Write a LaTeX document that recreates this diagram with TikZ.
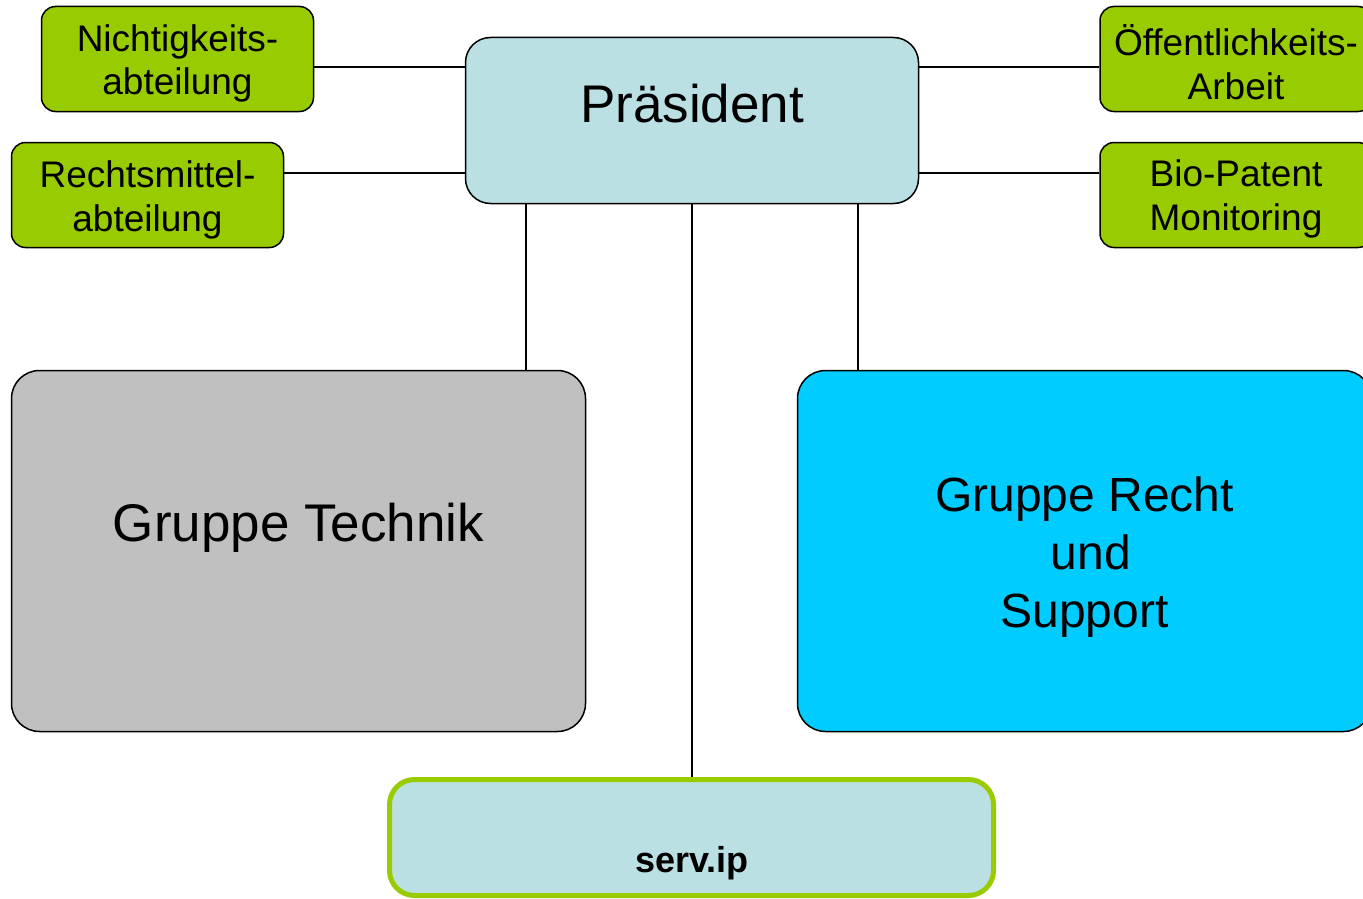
\documentclass[tikz,border=0pt]{standalone}
\usepackage{fontspec}
\setmainfont{Liberation Sans}
\definecolor{grn}{HTML}{99CC00}
\definecolor{lblue}{HTML}{BBE0E3}
\definecolor{gry}{HTML}{C0C0C0}
\definecolor{cyn}{HTML}{00CCFF}
\begin{document}
\begin{tikzpicture}[x=1pt,y=-1pt,
  box/.style={draw=black, line width=1.5pt, inner sep=0pt, align=center},
  greenbox/.style={box, fill=grn, minimum width=272pt, minimum height=105pt, rounded corners=14pt},
  gtext/.style={inner sep=0pt, align=center, font=\fontsize{37}{43.5}\selectfont},
  bigbox/.style={box, minimum width=574pt, minimum height=361pt, rounded corners=28pt},
  conn/.style={draw=black, line width=1.5pt},
  lbl/.style={inner sep=0pt, align=center}]
\clip (0,0) rectangle (1363,899);
\fill[white] (0,0) rectangle (1363,899);
% boxes
\node[greenbox, label={[gtext, yshift=-4.5pt]center:{Nichtigkeits-\\abteilung}}] (nicht) at (177.5,59) {};
\node[greenbox, label={[gtext, yshift=-5pt]center:{Rechtsmittel-\\abteilung}}] (recht) at (147.5,195) {};
\node[greenbox, label={[gtext, yshift=-3pt]center:{Öffentlichkeits-\\Arbeit}}] (oeff) at (1236,59) {};
\node[greenbox, label={[gtext, yshift=-4pt]center:{Bio-Patent\\Monitoring}}] (bio) at (1236,195) {};
\node[box, fill=lblue, minimum width=453pt, minimum height=166pt, rounded corners=25pt] (praes) at (692,120.5) {};
\node[lbl, font=\fontsize{53}{60}\selectfont] (praestext) at (692,104) {Präsident};
\node[bigbox, fill=gry] (technik) at (298.5,551) {};
\node[lbl, font=\fontsize{53}{60}\selectfont] (techtext) at (298.5,528) {Gruppe Technik};
\node[bigbox, fill=cyn] (rechtsupp) at (1084.5,551) {};
\node[lbl, font=\fontsize{48}{58}\selectfont] (rechttext) at (1084.5,557) {Gruppe Recht\\\hspace*{13pt}und\\Support};
\node[box, draw=grn, line width=5pt, fill=lblue, minimum width=604pt, minimum height=116pt, rounded corners=25pt] (serv) at (691.5,837.5) {};
\node[lbl, font=\fontsize{36}{42}\selectfont\bfseries] (servtext) at (692,863) {serv.ip};
% connector helper coordinates
\coordinate (h1) at (0,67);
\coordinate (h2) at (0,173);
\coordinate (v1) at (526,0);
\coordinate (v2) at (692,0);
\coordinate (v3) at (858,0);
% connectors
\draw[conn] (nicht.east |- h1) -- (praes.west |- h1);
\draw[conn] (recht.east |- h2) -- (praes.west |- h2);
\draw[conn] (praes.east |- h1) -- (oeff.west |- h1);
\draw[conn] (praes.east |- h2) -- (bio.west |- h2);
\draw[conn] (praes.south -| v1) -- (technik.north -| v1);
\draw[conn] (praes.south -| v2) -- (serv.north -| v2);
\draw[conn] (praes.south -| v3) -- (rechtsupp.north -| v3);
\end{tikzpicture}
\end{document}
